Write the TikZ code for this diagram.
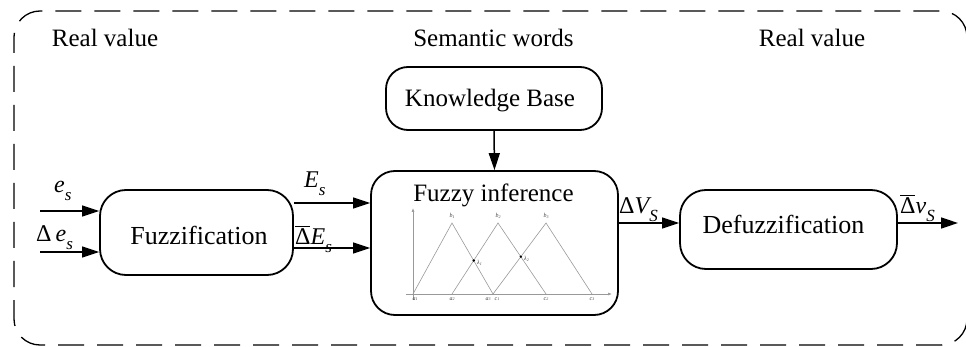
\documentclass[tikz,border=0pt]{standalone}
\usepackage{fontspec}
\setmainfont{Liberation Serif}
\newfontfamily\tnr{Liberation Serif}
\usetikzlibrary{arrows.meta}
\newcommand{\lowsub}[1]{\raisebox{-0.32em}{\fontsize{17}{17}\selectfont\itshape #1}}
\newcommand{\bardelta}{\leavevmode\rlap{\raisebox{0.74em}{\rule{0.6em}{0.05em}}}Δ}
\newcommand{\tinysub}[1]{\raisebox{-0.3ex}{\fontsize{4}{5}\selectfont #1}}
\begin{document}
\begin{tikzpicture}[x=1pt,y=-1pt,
  box/.style={draw,line width=1.8pt,rounded corners=26pt,inner sep=0pt},
  txt/.style={anchor=base,inner sep=0pt,font=\tnr\fontsize{25}{30}\selectfont},
  bigtxt/.style={anchor=base,inner sep=0pt,font=\tnr\fontsize{26}{31}\selectfont},
  arr/.style={line width=1.5pt,-{Triangle[length=17pt,width=11pt]}},
  hdr/.style={anchor=base,inner sep=0pt,font=\tnr\fontsize{25}{30}\selectfont},
  lbl/.style={anchor=base west,inner sep=0pt,font=\tnr\fontsize{24}{28}\selectfont},
  thin/.style={draw=gray!80,line width=0.6pt},
  tiny/.style={inner sep=0pt,font=\tnr\fontsize{6}{7}\selectfont\itshape,text=black!75}]
\useasboundingbox (0,0) rectangle (966,347);
% outer dashed border
\draw[line width=1.3pt,rounded corners=26pt,dash pattern=on 26pt off 13pt,dash phase=10pt] (14,11) rectangle (967,345);
% headers
\node[hdr] (h1) at (105,47) {Real value};
\node[hdr] (h2) at (493.5,47) {Semantic words};
\node[hdr] (h3) at (812,47) {Real value};
% boxes
\node[box,minimum width=193pt,minimum height=85pt] (fz) at (196.5,232.5) {};
\node[bigtxt] (fzt) at (199,245) {Fuzzification};
\node[box,minimum width=247pt,minimum height=144pt,rounded corners=24pt] (fi) at (494.5,243) {};
\node[txt] (fit) at (493.5,202) {Fuzzy inference};
\node[box,minimum width=216pt,minimum height=63pt,rounded corners=22pt] (kb) at (494,98.5) {};
\node[txt] (kbt) at (490,107) {Knowledge Base};
\node[box,minimum width=217pt,minimum height=79pt] (df) at (788.5,229.5) {};
\node[bigtxt] (dft) at (783.5,234) {Defuzzification};
% coordinates for connectors
\coordinate (in1) at (40,211);
\coordinate (in2) at (40,252);
\coordinate (yE) at (0,203);
\coordinate (yDE) at (0,248);
\coordinate (yV) at (0,223);
\coordinate (out) at (958,223);
% connectors
\draw[arr] (in1) -- (in1 -| fz.west);
\draw[arr] (in2) -- (in2 -| fz.west);
\draw[arr] (fz.east |- yE) -- (fi.west |- yE);
\draw[arr] (fz.east |- yDE) -- (fi.west |- yDE);
\draw[arr] (kb.south) -- (fi.north);
\draw[arr] (fi.east |- yV) -- (df.west |- yV);
\draw[arr] (df.east |- yV) -- (out);
% connector labels
\node[lbl] (l1) at (54,193) {\itshape e\lowsub{s}};
\node[lbl] (l2) at (36,242) {Δ\,\itshape e\lowsub{s}};
\node[lbl] (l3) at (304,188) {\itshape E\lowsub{s}};
\node[lbl] (l4) at (295,245) {\bardelta\itshape E\lowsub{s}};
\node[lbl] (l5) at (619,214) {Δ\itshape V\lowsub{S}};
\node[lbl] (l6) at (900,214) {\bardelta\itshape v\lowsub{S}};
% membership chart inside fuzzy inference
\coordinate (o) at (413,294);
\draw[thin,-{Latex[length=4pt,width=3pt]}] (413,300) -- (413,208);
\draw[thin,-{Latex[length=4pt,width=3pt]}] (406,294) -- (612,294);
\draw[thin] (413,294) -- (452,223) -- (493,294);
\draw[thin] (452,294) -- (498,223) -- (546,294);
\draw[thin] (493,294) -- (546,223) -- (592,294);
\fill (473.7,260.5) circle (1.3pt);
\fill (520.8,256.7) circle (1.3pt);
\node[tiny,anchor=south] (b1) at (452,219) {b\tinysub{1}};
\node[tiny,anchor=south] (b2) at (498,219) {b\tinysub{2}};
\node[tiny,anchor=south] (b3) at (546,219) {b\tinysub{3}};
\node[tiny,anchor=west] (lam1) at (477,263) {λ\tinysub{1}};
\node[tiny,anchor=west] (lam2) at (524,259) {λ\tinysub{2}};
\node[tiny,anchor=north] (a1) at (415,297) {a\tinysub{1}};
\node[tiny,anchor=north] (a2) at (452,297) {a\tinysub{2}};
\node[tiny,anchor=north] (a3) at (488,297) {a\tinysub{3}};
\node[tiny,anchor=north] (c1) at (497,297) {c\tinysub{1}};
\node[tiny,anchor=north] (c2) at (546,297) {c\tinysub{2}};
\node[tiny,anchor=north] (c3) at (592,297) {c\tinysub{3}};
\end{tikzpicture}
\end{document}
